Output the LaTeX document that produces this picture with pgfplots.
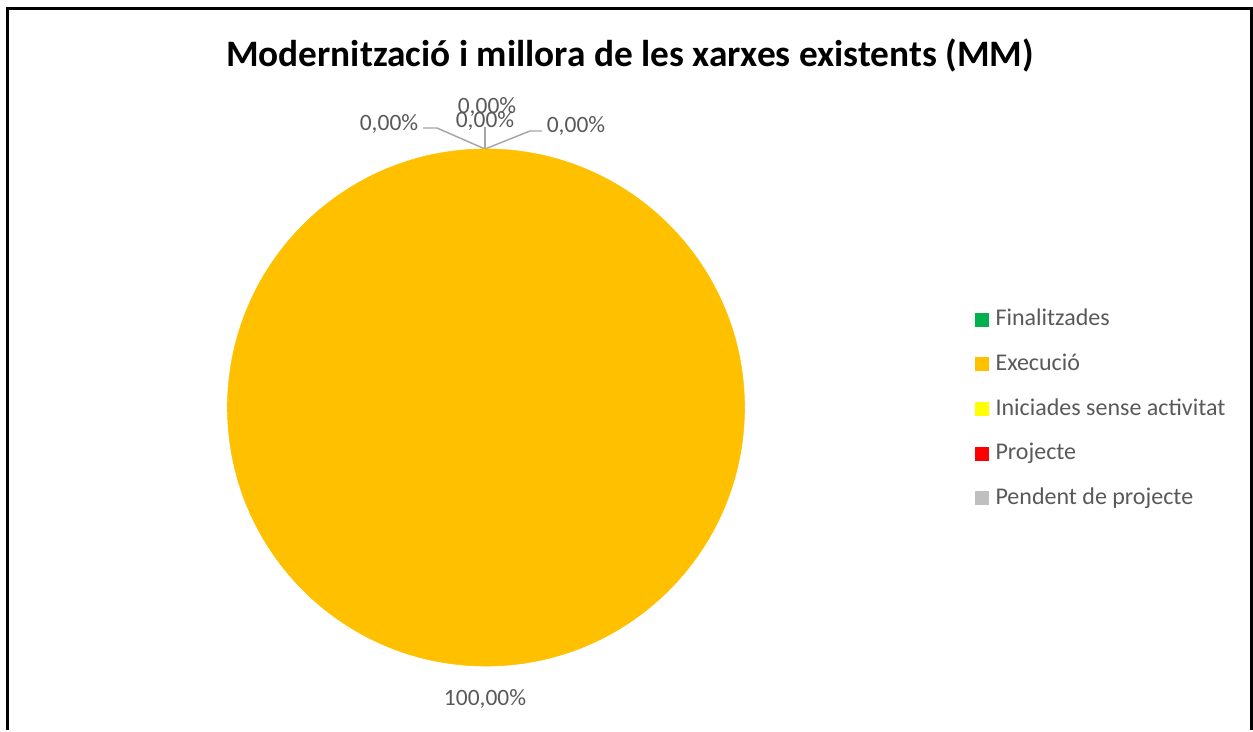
\documentclass[border=0pt]{standalone}
\usepackage{pgfplots}
\pgfplotsset{compat=1.18}
\usepackage{fontspec}
\setmainfont{Carlito}
\definecolor{fin}{HTML}{00B050}
\definecolor{exe}{HTML}{FFC000}
\definecolor{ini}{HTML}{FFFF00}
\definecolor{proj}{HTML}{FF0000}
\definecolor{pend}{HTML}{BFBFBF}
\definecolor{txt}{HTML}{595959}
\definecolor{lead}{HTML}{A6A6A6}
\begin{document}
\begin{tikzpicture}
\begin{axis}[
  width=939.75pt, height=547.5pt, scale only axis,
  xmin=0, xmax=1253, ymin=0, ymax=730, y dir=reverse,
  hide axis, clip=false,
  legend style={at={(axis cs:975,307)}, anchor=north west, draw=none, fill=none,
    inner sep=0pt, font=\fontsize{18}{21}\selectfont, text=txt, row sep=14.4pt,
    nodes={text height=12pt, text depth=3pt, inner sep=2pt}},
  legend cell align=left,
  legend image code/.code={\fill[#1, draw=none] (0pt,-5.25pt) rectangle (10.5pt,5.25pt); \path (13pt,0pt);},
]
% frame
\addplot[black, line width=1.9pt, forget plot] coordinates {(7.5,730) (7.5,8.7) (1251.5,8.7) (1251.5,730)};
% pie: Execució 100 %, the other slices 0 %
\addplot[only marks, mark=*, mark size=193.9pt, color=exe, forget plot] coordinates {(486,407.5)};
% leader lines of the 0 % slices
\addplot[lead, line width=1.1pt, forget plot] coordinates {(423,128) (437,128) (485,149)};
\addplot[lead, line width=1.1pt, forget plot] coordinates {(485,127) (485,149)};
\addplot[lead, line width=1.1pt, forget plot] coordinates {(485,149) (530,131) (542,131)};
% labels
\node[font=\bfseries\fontsize{28}{32}\selectfont, text=black] at (axis cs:630,55) {Modernització i millora de les xarxes existents (MM)};
\begin{scope}[every node/.style={font=\fontsize{17.6}{20}\selectfont, text=txt, inner sep=0pt}]
\node at (axis cs:389,124) {0,00\%};
\node at (axis cs:487,107) {0,00\%};
\node at (axis cs:485,121) {0,00\%};
\node at (axis cs:576,126) {0,00\%};
\node at (axis cs:485,699) {100,00\%};
\end{scope}
\addlegendimage{fill=fin}
\addlegendimage{fill=exe}
\addlegendimage{fill=ini}
\addlegendimage{fill=proj}
\addlegendimage{fill=pend}
\legend{Finalitzades, Execució, Iniciades sense activitat, Projecte, Pendent de projecte}
\end{axis}
\path (0,0) rectangle (939.75pt,547.5pt);
\end{tikzpicture}
\end{document}
